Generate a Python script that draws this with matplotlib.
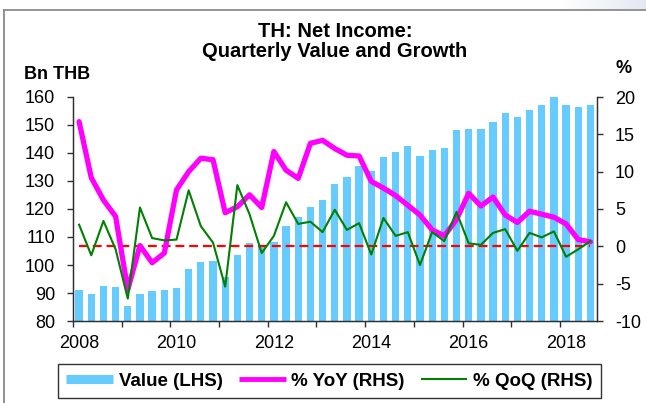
import matplotlib
matplotlib.use("Agg")
import matplotlib.pyplot as plt
from matplotlib.lines import Line2D
from matplotlib.transforms import ScaledTranslation
import numpy as np
import pandas as pd

plt.rcParams['font.family'] = ['Liberation Sans', 'DejaVu Sans']
plt.rcParams['axes.unicode_minus'] = False

# ---------------- data ----------------
quarters = pd.period_range('2008Q1', '2018Q3', freq='Q')
value = [91.1, 89.8, 92.6, 92.0, 85.4, 89.6, 90.6, 91.1, 91.8, 98.5,
         101.1, 101.4, 95.8, 103.6, 107.7, 106.8, 108.2, 114.0, 117.3, 120.8,
         123.1, 128.8, 131.4, 135.4, 133.7, 138.5, 140.4, 142.6, 138.8, 141.2,
         141.8, 148.2, 148.5, 148.5, 151.0, 154.2, 153.0, 155.4, 157.1, 159.9,
         157.1, 156.3, 157.3]
yoy = [16.7, 9.2, 6.2, 4.0, -5.8, 0.1, -2.2, -0.9, 7.55, 10.0,
       11.8, 11.6, 4.5, 5.3, 6.9, 5.2, 12.7, 10.2, 9.1, 13.8,
       14.2, 13.1, 12.2, 12.1, 8.7, 7.8, 6.8, 5.5, 4.2, 2.2,
       1.4, 3.6, 7.1, 5.4, 6.6, 4.2, 3.2, 4.7, 4.3, 3.9,
       3.0, 0.9, 0.6]
qoq = [2.9, -1.2, 3.4, -0.4, -7.0, 5.2, 1.1, 0.8, 0.9, 7.5,
       2.7, 0.5, -5.4, 8.2, 4.3, -0.9, 1.4, 5.9, 3.0, 3.3,
       1.9, 4.9, 2.2, 3.1, -1.1, 3.8, 1.4, 1.9, -2.5, 1.9,
       0.7, 4.6, 0.4, 0.2, 1.8, 2.3, -0.6, 1.8, 1.2, 2.0,
       -1.4, -0.4, 0.7]
years = list(range(2008, 2019))
year_labels = [str(y) if y % 2 == 0 else '' for y in years]
left_ticks = list(range(80, 161, 10))
right_ticks = list(range(-10, 21, 5))

x = np.array([q.year + (q.quarter - 0.5) / 4 for q in quarters])

# ---------------- figure ----------------
W, H = 646, 403
fig = plt.figure(figsize=(W / 100, H / 100), dpi=100)

# frame lines (top & left)
fig.add_artist(Line2D([3.5 / W, 3.5 / W], [0, 1 - 10 / H], transform=fig.transFigure,
                      color='#8a8a8a', lw=1.3))
fig.add_artist(Line2D([3.5 / W, 1], [1 - 10 / H, 1 - 10 / H], transform=fig.transFigure,
                      color='#8a8a8a', lw=1.3))
# faint shading top-right
gax = fig.add_axes([560 / W, 1 - 9 / H, 86 / W, 9 / H])
grad = np.linspace(0, 1, 100)[None, :]
gax.imshow(grad, aspect='auto', cmap=matplotlib.colors.LinearSegmentedColormap.from_list(
    'g', ['#ffffff', '#e4e8f2']), extent=[0, 1, 0, 1])
gax.axis('off')

ax = fig.add_axes([73 / W, 1 - 321 / H, 524 / W, 224 / H])
ax.bar(x, value, width=0.15, color='#66CCFF', zorder=2)
ax.set_ylim(80, 160)
ax.set_yticks(left_ticks)
ax.set_xlim(2008, 2018.76)
ax.set_xticks(years)
ax.set_xticklabels(year_labels)
ax.spines['top'].set_visible(False)
spine_col = '#303030'
for s in ['left', 'bottom', 'right']:
    ax.spines[s].set_color(spine_col)
    ax.spines[s].set_linewidth(1.0)
ax.tick_params(axis='y', direction='out', length=4, width=1, labelsize=13, pad=9, colors=spine_col, labelcolor='black')
ax.tick_params(axis='x', direction='out', length=4, width=1, labelsize=13, pad=6, colors=spine_col, labelcolor='black')
for lab in ax.get_xticklabels():
    lab.set_transform(lab.get_transform() + ScaledTranslation(6 / 100, 0, fig.dpi_scale_trans))

ax2 = ax.twinx()
ax2.set_ylim(-10, 20)
ax2.set_yticks(right_ticks)
ax2.spines['top'].set_visible(False)
for s in ['left', 'bottom', 'right']:
    ax2.spines[s].set_color(spine_col)
ax2.tick_params(axis='y', direction='out', length=4, width=1, labelsize=13, pad=9, colors=spine_col, labelcolor='black')
ax2.hlines(0, x[0], x[-1], colors='#FF0000', linestyles=(0, (4, 2.2)), lw=1.6, zorder=2)
ax2.plot(x, yoy, color='#FF00FF', lw=3.8, solid_joinstyle='round', solid_capstyle='round', zorder=3)
ax2.plot(x, qoq, color='#008000', lw=1.5, zorder=4)

# texts
fig.text(335 / W, 1 - 36.7 / H, 'TH: Net Income:', ha='center', va='baseline',
         fontsize=14.5, fontweight='bold')
fig.text(335 / W, 1 - 56.7 / H, 'Quarterly Value and Growth', ha='center', va='baseline',
         fontsize=14.5, fontweight='bold')
fig.text(24 / W, 1 - 79 / H, 'Bn THB', ha='left', va='baseline', fontsize=13, fontweight='bold')
fig.text(624 / W, 1 - 73 / H, '%', ha='center', va='baseline', fontsize=13, fontweight='bold')

handles = [Line2D([], [], color='#66CCFF', lw=6.5, solid_capstyle='butt'),
           Line2D([], [], color='#FF00FF', lw=3.5, solid_capstyle='butt'),
           Line2D([], [], color='#008000', lw=1.5, solid_capstyle='butt')]
labels = ['Value (LHS)', '% YoY (RHS)', '% QoQ (RHS)']
leg = fig.legend(handles, labels, loc='center', bbox_to_anchor=(329.5 / W, 1 - 381 / H),
                 ncol=3, frameon=True, fancybox=False, edgecolor='black',
                 prop={'weight': 'bold', 'size': 13.5}, handlelength=2.5,
                 handletextpad=0.3, columnspacing=0.85, borderpad=0.45, borderaxespad=0)
leg.get_frame().set_linewidth(1.0)

fig.savefig('out.png', dpi=100)
